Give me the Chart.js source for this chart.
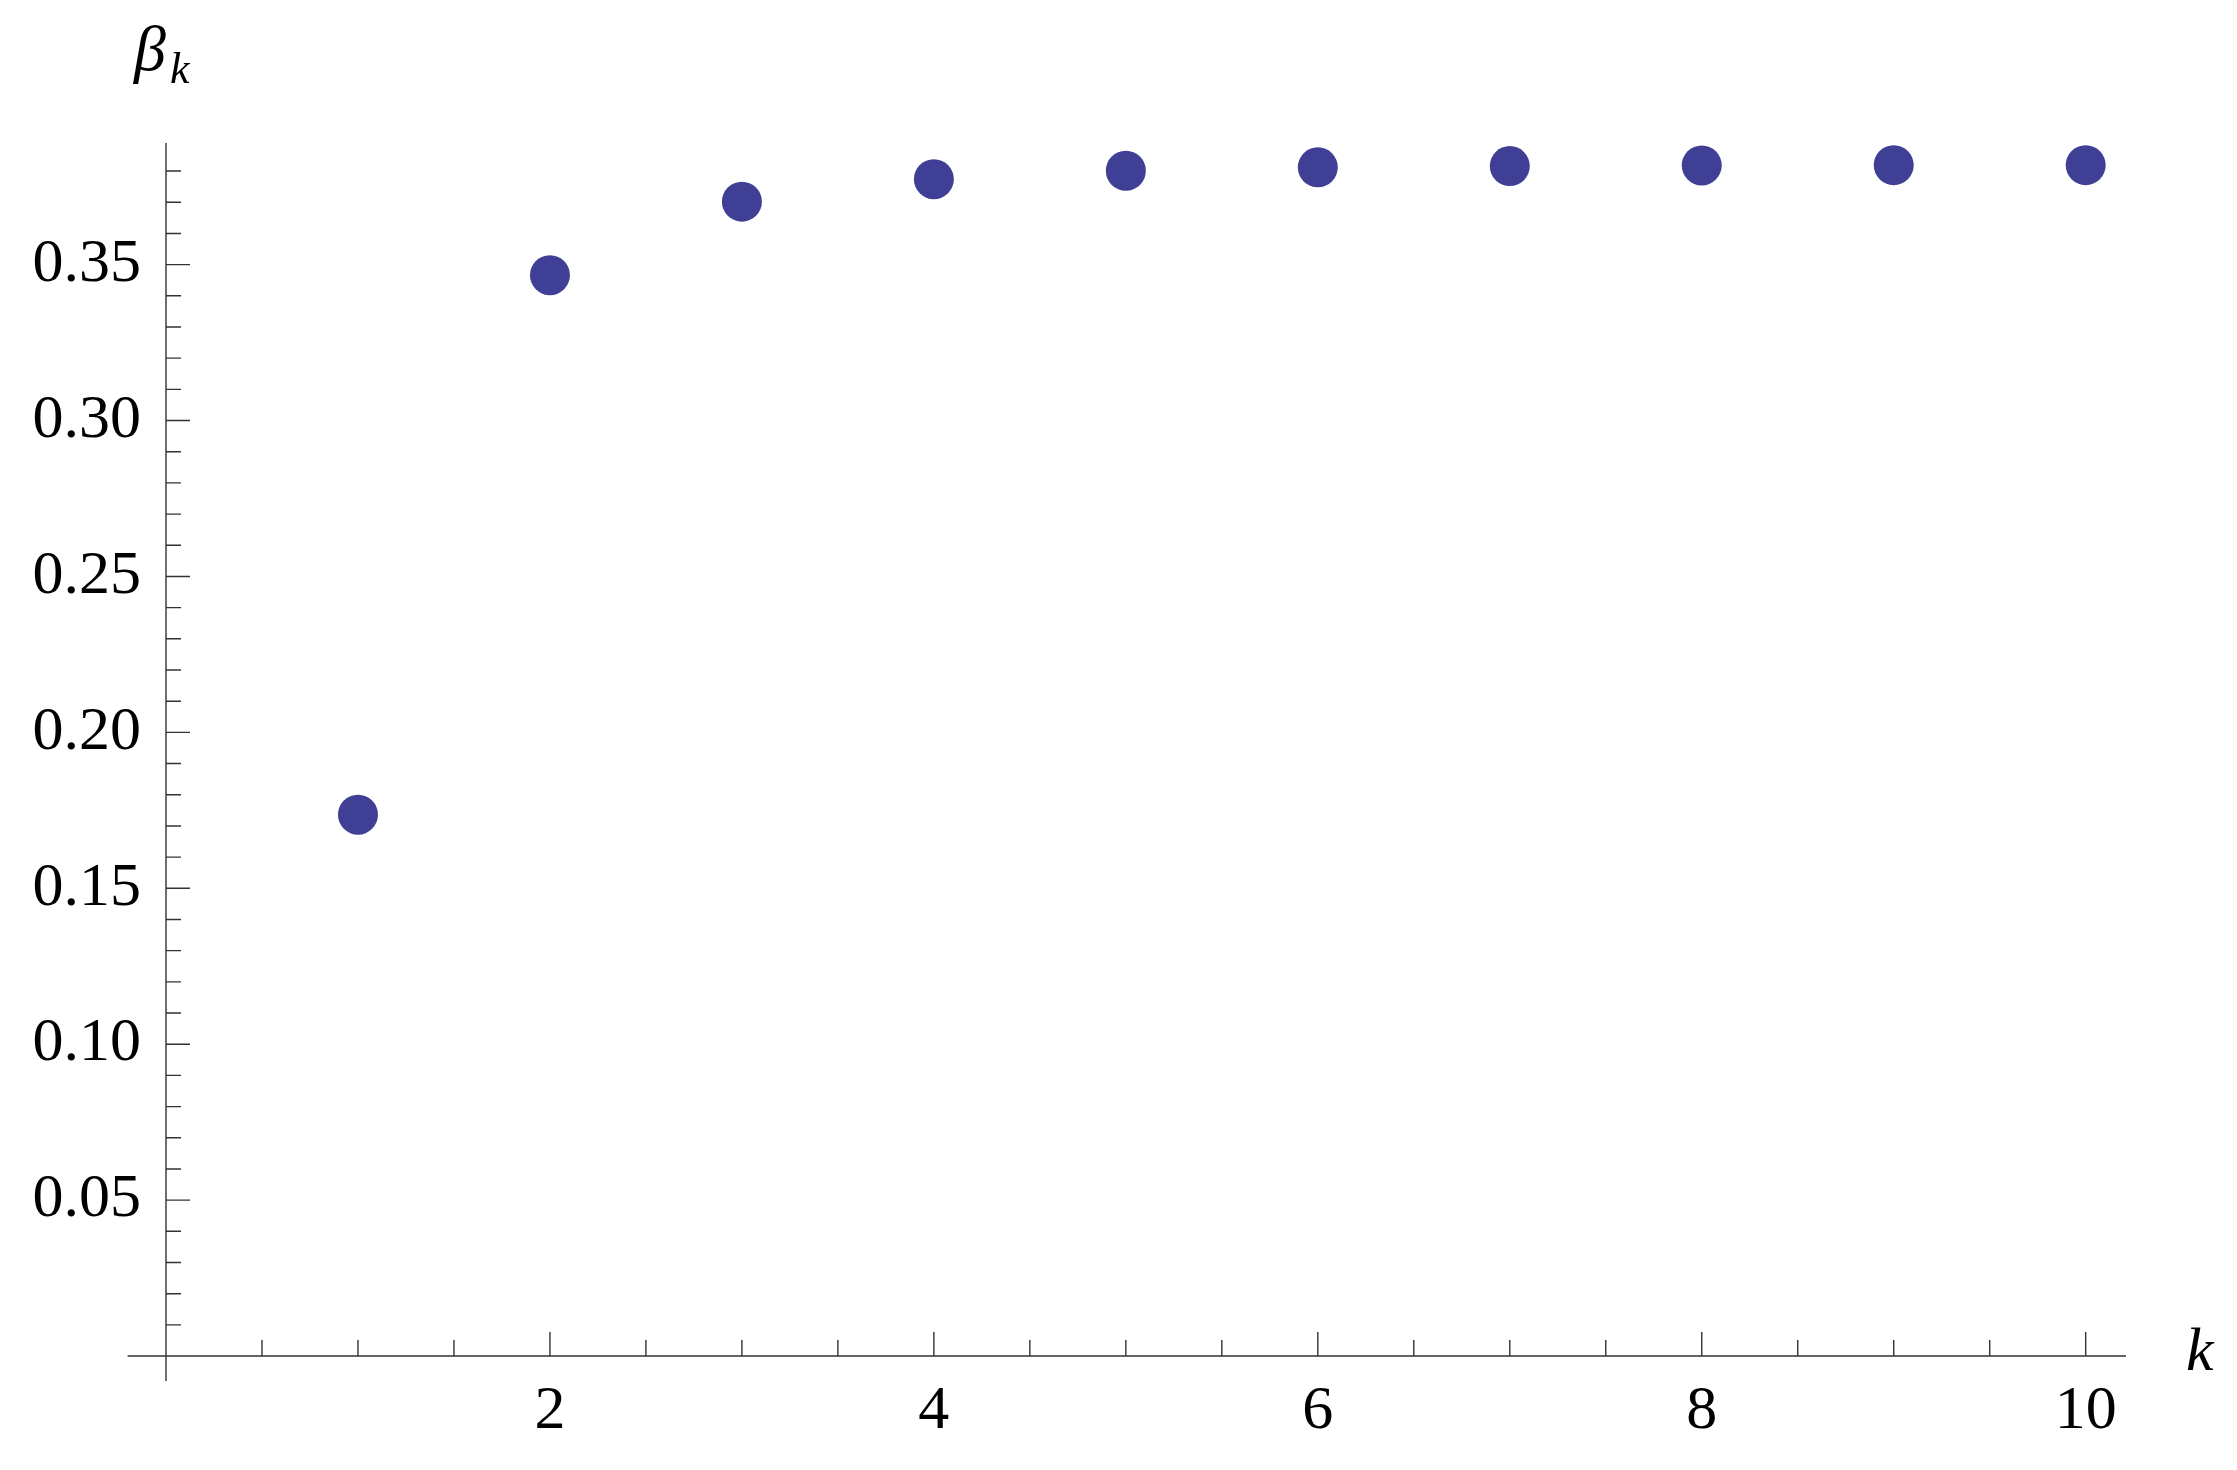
<!DOCTYPE html>
<html>
<head>
<meta charset="utf-8">
<script src="https://cdn.jsdelivr.net/npm/chart.js@4"></script>
<style>
  html, body { margin: 0; padding: 0; background: #fff; }
  #wrap { width: 2237px; height: 1470px; }
</style>
</head>
<body>
<div id="wrap"><canvas id="myChart" width="2237" height="1470"></canvas></div>
<script>
var ks = [1, 2, 3, 4, 5, 6, 7, 8, 9, 10];
var betas = [0.1736, 0.3466, 0.3702, 0.3774, 0.3801, 0.3812, 0.3816, 0.3818, 0.3819, 0.3819];
var xLabels = [2, 4, 6, 8, 10];
var yLabels = [0.05, 0.10, 0.15, 0.20, 0.25, 0.30, 0.35];

var serif = "'Liberation Serif', 'DejaVu Serif', serif";
var axisColor = "#333";

function isLabel(list, v) {
    return list.some(function (t) { return Math.abs(t - v) < 1e-6; });
}

// mathematica style axes: lines through the origin, ticks pointing inward
var axesPlugin = {
    id: 'axes',
    afterDraw: function (chart) {
        var c = chart.ctx;
        var xs = chart.scales.x, ys = chart.scales.y;
        var x0 = xs.getPixelForValue(0), y0 = ys.getPixelForValue(0);
        c.save();
        c.strokeStyle = axisColor;
        c.lineWidth = 1.4;
        c.beginPath();
        c.moveTo(xs.getPixelForValue(-0.2), y0); c.lineTo(xs.right, y0);
        c.moveTo(x0, ys.top); c.lineTo(x0, ys.bottom);
        xs.ticks.forEach(function (t) {
            if (Math.abs(t.value) < 1e-9) return;
            var px = xs.getPixelForValue(t.value);
            var len = isLabel(xLabels, t.value) ? 24 : 16;
            c.moveTo(px, y0); c.lineTo(px, y0 - len);
        });
        ys.ticks.forEach(function (t) {
            if (Math.abs(t.value) < 1e-9) return;
            var py = ys.getPixelForValue(t.value);
            var len = isLabel(yLabels, t.value) ? 24 : 15;
            c.moveTo(x0, py); c.lineTo(x0 + len, py);
        });
        c.stroke();

        // axis names
        c.fillStyle = "#000";
        c.textBaseline = "alphabetic";
        c.textAlign = "left";
        c.font = "italic 64px " + serif;
        c.fillText("β", 134, 70);
        c.font = "italic 44px " + serif;
        c.fillText("k", 170, 83);
        c.font = "italic 62px " + serif;
        c.fillText("k", 2186, 1370);
        c.restore();
    }
};

var ctx = document.getElementById('myChart').getContext("2d");

var myGraph = new Chart(ctx, {
    type: "scatter",
    data: {
        datasets: [{
            data: ks.map(function (k, i) { return { x: k, y: betas[i] }; }),
            backgroundColor: "#3f3f96",
            borderWidth: 0,
            pointRadius: 20,
            pointHoverRadius: 20,
            clip: false
        }]
    },
    options: {
        responsive: false,
        animation: false,
        layout: {
            padding: { left: 0, right: 111, top: 143, bottom: 0 }
        },
        scales: {
            x: {
                type: "linear",
                min: 0,
                max: 10.21,
                afterFit: function (s) { s.height = 89; },
                grid: { display: false, drawTicks: false },
                border: { display: false },
                ticks: {
                    stepSize: 0.5,
                    includeBounds: false,
                    autoSkip: false,
                    maxRotation: 0,
                    padding: -6,
                    color: "#000",
                    font: { family: serif, size: 62 },
                    callback: function (v) { return isLabel(xLabels, v) ? String(v) : ""; }
                }
            },
            y: {
                type: "linear",
                min: -0.008,
                max: 0.389,
                afterFit: function (s) { s.width = 166; },
                grid: { display: false, drawTicks: false },
                border: { display: false },
                ticks: {
                    stepSize: 0.01,
                    includeBounds: false,
                    autoSkip: false,
                    padding: 25,
                    color: "#000",
                    font: { family: serif, size: 62 },
                    callback: function (v) { return isLabel(yLabels, v) ? v.toFixed(2) : ""; }
                }
            }
        },
        plugins: {
            legend: { display: false },
            tooltip: { enabled: false }
        }
    },
    plugins: [axesPlugin]
});
</script>
</body>
</html>
